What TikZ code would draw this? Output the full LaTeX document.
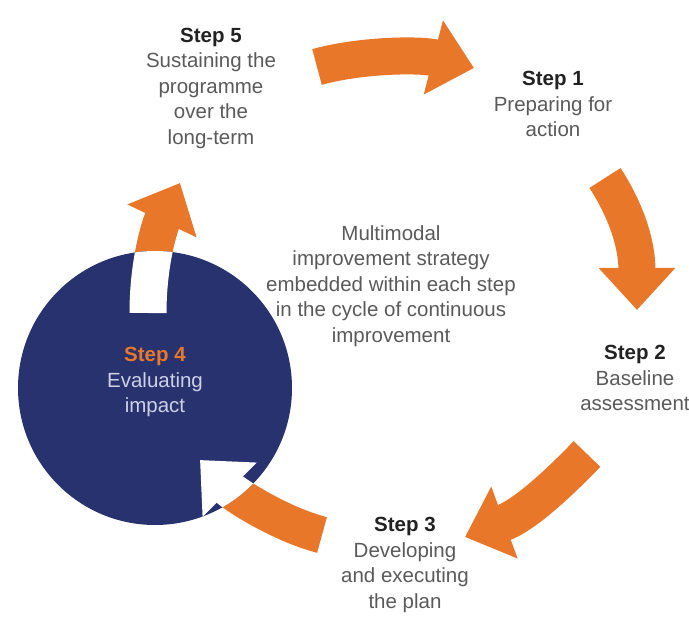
\documentclass[tikz,border=0pt]{standalone}
\usepackage{fontspec}
\setmainfont{Liberation Sans}
\usetikzlibrary{arrows.meta, positioning}
\definecolor{clrorange}{HTML}{E8772A}
\definecolor{clrnavy}{HTML}{27326F}
\definecolor{clrtext}{HTML}{5A5A5A}
\definecolor{clrhead}{HTML}{222222}
\definecolor{clrpale}{HTML}{CDD0E6}

\begin{document}
\begin{tikzpicture}[
            x=1pt, y=-1pt,
            cycle arrow/.style={line width=37pt, -{Triangle[width=74pt, length=42pt]}},
            step text/.style={font=\fontsize{20.5}{25.5}\selectfont, text=clrtext, align=center, inner sep=0pt},
        ]
        \useasboundingbox (0,0) rectangle (689,617);

        % Arrow end points
        \coordinate (tail a) at (317,67);   \coordinate (tip a) at (474,68);
        \coordinate (tail b) at (605,178);  \coordinate (tip b) at (637,310);
        \coordinate (tail c) at (587,454);  \coordinate (tip c) at (465,537);
        \coordinate (tail d) at (322,535);  \coordinate (tip d) at (200,460);
        \coordinate (tail e) at (148,313);  \coordinate (tip e) at (180,183);

        % Cycle arrows
        \draw[cycle arrow, clrorange] (tail a) .. controls (360,55) and (420,54) .. (tip a);
        \draw[cycle arrow, clrorange] (tail b) .. controls (627,212) and (637,245) .. (tip b);
        \draw[cycle arrow, clrorange] (tail c) .. controls (560,482) and (525,515) .. (tip c);
        \draw[cycle arrow, clrorange] (tail d) .. controls (280,524) and (235,495) .. (tip d);
        \draw[cycle arrow, clrorange] (tail e) .. controls (148,262) and (160,225) .. (tip e);

        % Step 4 disc
        \fill[clrnavy] (155,388) circle (137);

        % Arrow parts over the disc
        \begin{scope}
            \clip (155,388) circle (137);
            \draw[cycle arrow, white] (tail d) .. controls (280,524) and (235,495) .. (tip d);
            \draw[cycle arrow, white] (tail e) .. controls (148,262) and (160,225) .. (tip e);
        \end{scope}

        % Step labels
        \node[step text] (step five) at (211,88) {\textcolor{clrhead}{\bfseries Step 5}\\Sustaining the\\programme\\over the\\long-term};
        \node[step text] (step one) at (553,104) {\textcolor{clrhead}{\bfseries Step 1}\\Preparing for\\action};
        \node[step text] (step two) at (635,378) {\textcolor{clrhead}{\bfseries Step 2}\\Baseline\\assessment};
        \node[step text] (step three) at (405,565) {\textcolor{clrhead}{\bfseries Step 3}\\Developing\\and executing\\the plan};
        \node[step text, text=clrpale] (step four) at (155,382) {\textcolor{clrorange}{\bfseries Step 4}\\Evaluating\\impact};

        % Centre text
        \node[step text] (strategy) at (391,286) {Multimodal\\improvement strategy\\embedded within each step\\in the cycle of continuous\\improvement};

        \end{tikzpicture}
\end{document}
